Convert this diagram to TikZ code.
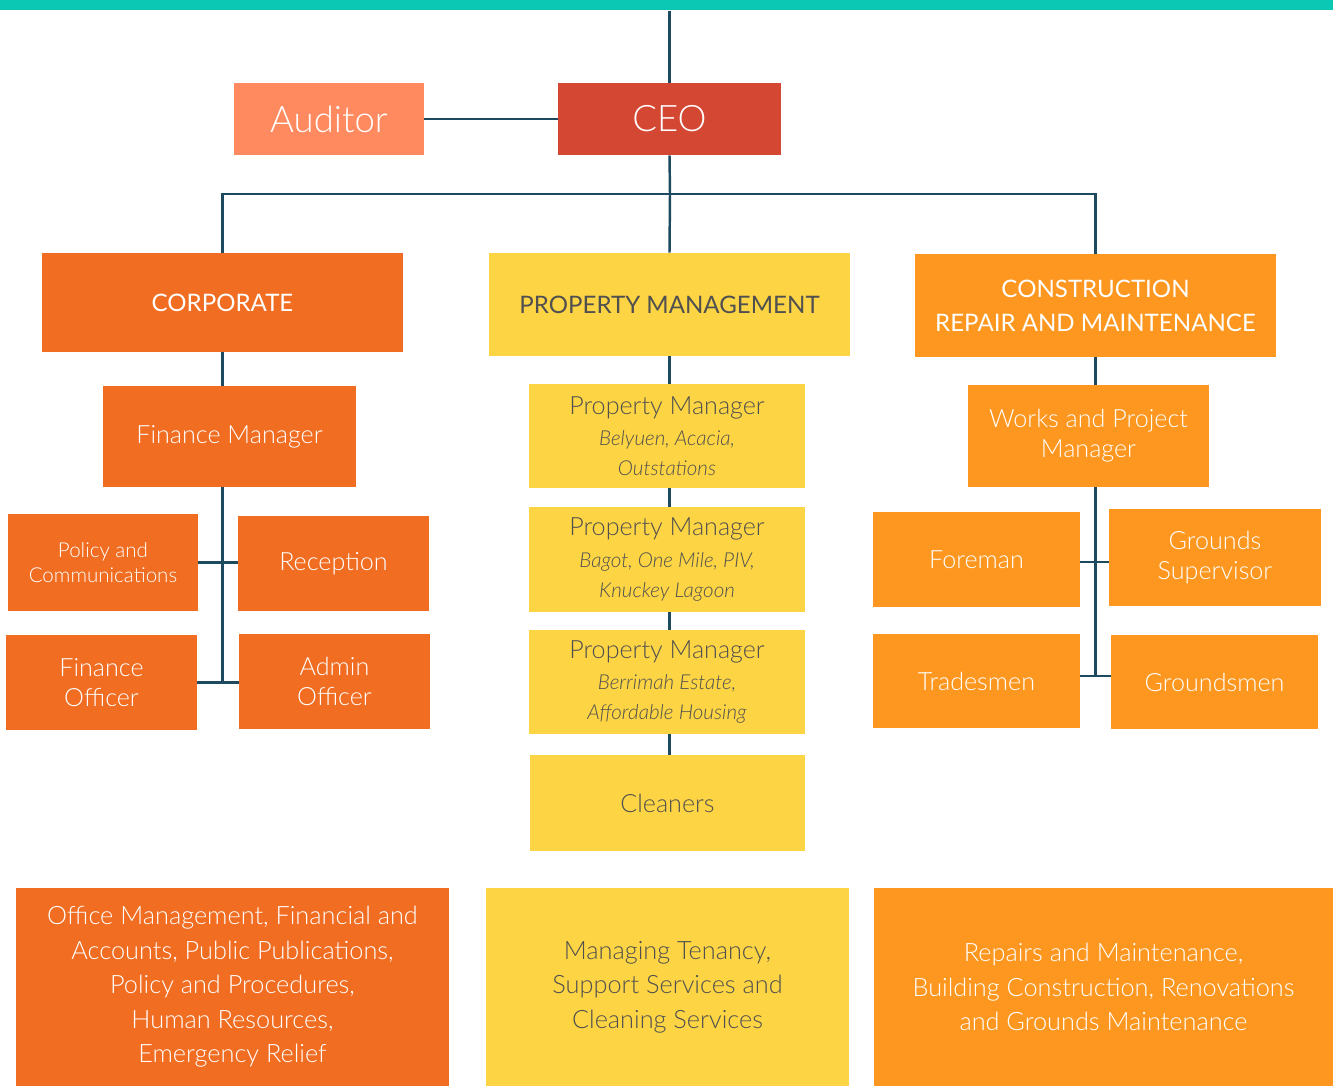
\documentclass[tikz,border=0pt]{standalone}
\usepackage{fontspec}
\setmainfont{Lato}[UprightFont=* Light, ItalicFont=* Light Italic]
\newfontfamily\headfont{Lato}
\usepackage{xcolor}
\usetikzlibrary{positioning}
\definecolor{barteal}{HTML}{0BC8B4}
\definecolor{audsalmon}{HTML}{FF8A5F}
\definecolor{ceored}{HTML}{D44733}
\definecolor{corporg}{HTML}{F06D22}
\definecolor{propyel}{HTML}{FDD443}
\definecolor{consorg}{HTML}{FD971F}
\definecolor{linkblue}{HTML}{1D4A5F}
\definecolor{textgray}{HTML}{505050}
\newcommand{\sitelist}[1]{{\fontsize{11.7}{15.6}\selectfont\itshape #1}}

\begin{document}
\begin{tikzpicture}[x=0.02cm, y=-0.02cm, sized/.style 2 args={minimum width=#1*0.02cm, minimum height=#2*0.02cm}, box/.style={rectangle, inner sep=2pt, align=center, text=white, font=\fontsize{14.3}{17}\selectfont}, corpbox/.style={box, fill=corporg}, propbox/.style={box, fill=propyel, text=textgray}, consbox/.style={box, fill=consorg}, headbox/.style={font=\headfont\fontsize{13.7}{19.3}\selectfont}, topbox/.style={box, font=\fontsize{20.8}{24}\selectfont}, duty/.style={font=\fontsize{14.4}{19.6}\selectfont}, link/.style={draw=linkblue, line width=1.4pt}]
\useasboundingbox (0,0) rectangle (1333,1086);
\node[fill=barteal, sized={1333}{10}, inner sep=0pt, anchor=north west] (bar) at (0,0) {};
\node[topbox, fill=audsalmon, sized={190}{72}] (auditor) at (329,119) {Auditor};
\node[topbox, fill=ceored, sized={223}{72}] (ceo) at (669.5,119) {CEO};
\node[corpbox, headbox, sized={361}{99}] (corp) at (222.5,302.5) {CORPORATE};
\node[propbox, headbox, sized={361}{103}] (prop) at (669.5,304.5) {PROPERTY MANAGEMENT};
\node[consbox, headbox, sized={361}{103}] (cons) at (1095.5,305.5) {CONSTRUCTION\\REPAIR AND MAINTENANCE};
\node[corpbox, sized={253}{101}] (finmgr) at (229.5,436.5) {Finance Manager};
\node[corpbox, sized={190}{97}, font=\fontsize{11.7}{14.2}\selectfont] (policy) at (103,562.5) {Policy and\\Communications};
\node[corpbox, sized={191}{95}] (recep) at (333.5,563.5) {Reception};
\node[corpbox, sized={191}{95}] (finoff) at (101.5,682.5) {Finance\\Officer};
\node[corpbox, sized={191}{95}] (admin) at (334.5,681.5) {Admin\\Officer};
\node[propbox, sized={276}{104}] (pmA) at (667,436) {Property Manager\\[1pt]\sitelist{Belyuen, Acacia,}\\\sitelist{Outstations}};
\node[propbox, sized={276}{105}] (pmB) at (667,559.5) {Property Manager\\[1pt]\sitelist{Bagot, One Mile, PIV,}\\\sitelist{Knuckey Lagoon}};
\node[propbox, sized={276}{104}] (pmC) at (667,682) {Property Manager\\[1pt]\sitelist{Berrimah Estate,}\\\sitelist{Affordable Housing}};
\node[propbox, sized={275}{96}] (clean) at (667.5,803) {Cleaners};
\node[consbox, sized={241}{102}] (works) at (1088.5,436) {Works and Project\\Manager};
\node[consbox, sized={207}{95}] (foreman) at (976.5,559.5) {Foreman};
\node[consbox, sized={212}{97}] (gsup) at (1215,557.5) {Grounds\\Supervisor};
\node[consbox, sized={207}{94}] (trades) at (976.5,681) {Tradesmen};
\node[consbox, sized={207}{94}] (grounds) at (1214.5,682) {Groundsmen};
\node[corpbox, duty, sized={433}{198}] (corpduty) at (232.5,987) {Office Management, Financial and\\Accounts, Public Publications,\\Policy and Procedures,\\Human Resources,\\Emergency Relief};
\node[propbox, duty, sized={363}{198}] (propduty) at (667.5,987) {Managing Tenancy,\\Support Services and\\Cleaning Services};
\node[consbox, duty, sized={459}{198}] (consduty) at (1103.5,987) {Repairs and Maintenance,\\Building Construction, Renovations\\and Grounds Maintenance};
\coordinate (hub) at (670,194);
\draw[link] (bar.south -| ceo) -- (ceo.north);
\draw[link] (auditor.east) -- (ceo.west);
\draw[link] (ceo.south) -- (hub);
\draw[link] (hub) -| (corp.north);
\draw[link] (hub) -| (cons.north);
\draw[link] (hub) -- (prop.north);
\draw[link] (corp.south) -- (corp.south |- finmgr.north);
\draw[link] (finmgr.south -| corp.south) -- (corp.south |- finoff.east);
\draw[link] (policy.east) -- (policy.east -| recep.west);
\draw[link] (finoff.east) -- (finoff.east -| admin.west);
\draw[link] (prop.south) -- (prop.south |- pmA.north);
\draw[link] (pmA.south -| prop.south) -- (prop.south |- pmB.north);
\draw[link] (pmB.south -| prop.south) -- (prop.south |- pmC.north);
\draw[link] (pmC.south -| prop.south) -- (prop.south |- clean.north);
\draw[link] (cons.south) -- (cons.south |- works.north);
\draw[link] (works.south -| cons.south) -- ([yshift=0.1cm]cons.south |- trades.east);
\draw[link] ([yshift=-0.05cm]foreman.east) -- ([yshift=-0.05cm]foreman.east -| gsup.west);
\draw[link] ([yshift=0.1cm]trades.east) -- ([yshift=0.1cm]trades.east -| grounds.west);
\end{tikzpicture}
\end{document}
